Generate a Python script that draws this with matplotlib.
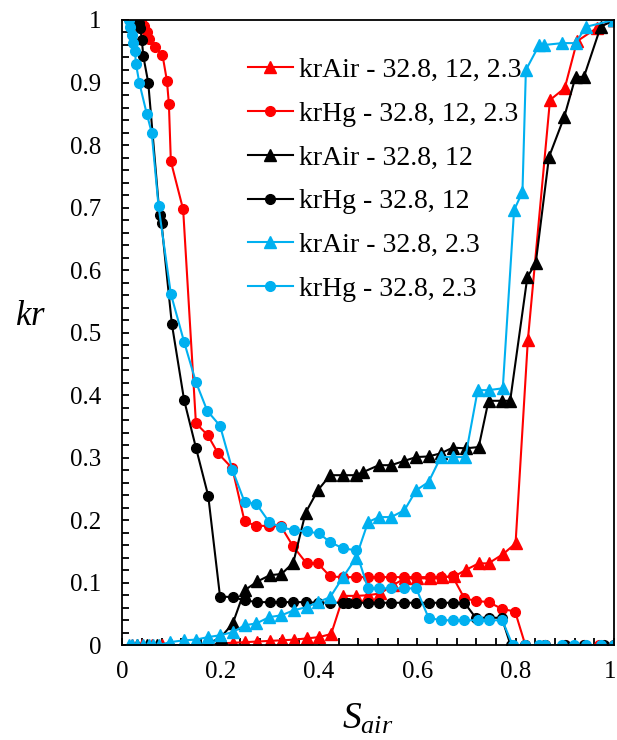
import matplotlib
matplotlib.use('Agg')
import matplotlib.pyplot as plt
from matplotlib.ticker import MultipleLocator, FuncFormatter

plt.rcParams['font.family'] = 'Liberation Serif'
plt.rcParams['mathtext.fontset'] = 'custom'
plt.rcParams['mathtext.it'] = 'Liberation Serif:italic'
plt.rcParams['mathtext.rm'] = 'Liberation Serif'

# krAir - 32.8, 12, 2.3
x_air_a = [0.02, 0.04, 0.06, 0.08, 0.10, 0.125, 0.15, 0.175, 0.20, 0.225, 0.25, 0.275, 0.30,
           0.325, 0.35, 0.375, 0.40, 0.425, 0.45, 0.475, 0.50, 0.525, 0.55, 0.575, 0.60, 0.625,
           0.65, 0.675, 0.70, 0.725, 0.745, 0.775, 0.80, 0.825, 0.87, 0.90, 0.925, 0.965, 1.0]
y_air_a = [0.0, 0.0, 0.0, 0.0, 0.0, 0.0, 0.0, 0.0, 0.003, 0.004, 0.005, 0.006, 0.007,
           0.008, 0.009, 0.011, 0.013, 0.018, 0.079, 0.079, 0.080, 0.083, 0.096, 0.107, 0.107, 0.107,
           0.109, 0.110, 0.121, 0.131, 0.131, 0.146, 0.163, 0.488, 0.872, 0.891, 0.966, 0.987, 1.0]

# krHg - 32.8, 12, 2.3
x_hg_a = [0.038, 0.045, 0.05, 0.055, 0.066, 0.082, 0.091, 0.095, 0.099, 0.124, 0.15, 0.174,
          0.195, 0.224, 0.249, 0.273, 0.299, 0.323, 0.347, 0.375, 0.398, 0.423, 0.449, 0.476,
          0.50, 0.523, 0.547, 0.574, 0.598, 0.625, 0.648, 0.672, 0.696, 0.72, 0.745, 0.773,
          0.799, 0.82, 0.86, 0.90, 0.94, 0.97, 1.0]
y_hg_a = [1.0, 0.99, 0.981, 0.970, 0.957, 0.944, 0.903, 0.866, 0.774, 0.697, 0.355, 0.336,
          0.307, 0.283, 0.198, 0.191, 0.191, 0.190, 0.159, 0.131, 0.131, 0.110, 0.109, 0.109,
          0.109, 0.109, 0.109, 0.109, 0.109, 0.109, 0.109, 0.110, 0.075, 0.071, 0.069, 0.058,
          0.054, 0.0, 0.0, 0.0, 0.0, 0.0, 0.0]

# krAir - 32.8, 12
x_air_b = [0.03, 0.05, 0.07, 0.10, 0.125, 0.15, 0.175, 0.20, 0.225, 0.249, 0.275, 0.30, 0.324,
           0.348, 0.373, 0.398, 0.423, 0.449, 0.475, 0.49, 0.522, 0.547, 0.574, 0.598, 0.623,
           0.648, 0.672, 0.699, 0.725, 0.745, 0.772, 0.789, 0.824, 0.841, 0.868, 0.899, 0.922,
           0.939, 0.973, 1.0]
y_air_b = [0.0, 0.0, 0.0, 0.0, 0.0, 0.0, 0.003, 0.012, 0.035, 0.088, 0.102, 0.112, 0.114,
           0.132, 0.212, 0.248, 0.272, 0.272, 0.272, 0.277, 0.288, 0.288, 0.295, 0.301, 0.302,
           0.307, 0.316, 0.315, 0.317, 0.391, 0.391, 0.391, 0.589, 0.611, 0.781, 0.845, 0.909,
           0.909, 0.989, 1.0]

# krHg - 32.8, 12
x_hg_b = [0.03, 0.035, 0.037, 0.04, 0.043, 0.053, 0.076, 0.08, 0.101, 0.126, 0.15, 0.175,
          0.199, 0.225, 0.249, 0.274, 0.30, 0.324, 0.348, 0.373, 0.398, 0.423, 0.449, 0.46,
          0.475, 0.50, 0.523, 0.547, 0.574, 0.598, 0.623, 0.648, 0.672, 0.696, 0.719, 0.745,
          0.772, 0.79, 0.82, 0.86, 0.90, 0.94, 0.98, 1.0]
y_hg_b = [1.0, 0.995, 0.987, 0.968, 0.942, 0.90, 0.688, 0.675, 0.514, 0.392, 0.316, 0.239,
          0.078, 0.077, 0.072, 0.069, 0.069, 0.069, 0.069, 0.069, 0.068, 0.068, 0.068, 0.068,
          0.068, 0.068, 0.068, 0.068, 0.068, 0.068, 0.068, 0.068, 0.068, 0.068, 0.044, 0.044,
          0.044, 0.0, 0.0, 0.0, 0.0, 0.0, 0.0, 0.0]

# krAir - 32.8, 2.3
x_air_c = [0.013, 0.02, 0.03, 0.043, 0.055, 0.063, 0.074, 0.097, 0.126, 0.15, 0.174, 0.199,
           0.225, 0.249, 0.273, 0.299, 0.324, 0.349, 0.375, 0.398, 0.423, 0.449, 0.475, 0.50,
           0.522, 0.547, 0.574, 0.598, 0.623, 0.648, 0.672, 0.698, 0.723, 0.745, 0.774, 0.797,
           0.814, 0.821, 0.848, 0.858, 0.895, 0.922, 0.943, 1.0]
y_air_c = [0.0, 0.0, 0.0, 0.0, 0.0, 0.0, 0.0, 0.005, 0.008, 0.009, 0.013, 0.016,
           0.021, 0.032, 0.035, 0.045, 0.048, 0.056, 0.061, 0.069, 0.077, 0.109, 0.139, 0.197,
           0.205, 0.205, 0.216, 0.248, 0.261, 0.301, 0.301, 0.301, 0.408, 0.408, 0.411, 0.696,
           0.725, 0.92, 0.96, 0.96, 0.963, 0.963, 0.989, 1.0]

# krHg - 32.8, 2.3
x_hg_c = [0.013, 0.016, 0.02, 0.023, 0.026, 0.028, 0.035, 0.05, 0.06, 0.074, 0.099, 0.126,
          0.15, 0.173, 0.199, 0.224, 0.249, 0.273, 0.299, 0.323, 0.349, 0.375, 0.40, 0.423,
          0.449, 0.475, 0.50, 0.523, 0.547, 0.574, 0.598, 0.623, 0.648, 0.672, 0.696, 0.723,
          0.745, 0.773, 0.794, 0.82, 0.848, 0.86, 0.895, 0.919, 0.943, 0.973, 1.0]
y_hg_c = [1.0, 0.989, 0.976, 0.963, 0.951, 0.93, 0.899, 0.85, 0.82, 0.702, 0.562, 0.485,
          0.421, 0.375, 0.351, 0.281, 0.229, 0.226, 0.197, 0.189, 0.184, 0.182, 0.179, 0.165,
          0.155, 0.152, 0.091, 0.091, 0.091, 0.091, 0.091, 0.044, 0.04, 0.04, 0.04, 0.04,
          0.04, 0.04, 0.0, 0.0, 0.0, 0.0, 0.0, 0.0, 0.0, 0.0, 0.0]

red = '#FF0000'
black = '#000000'
blue = '#00B0F0'

fig = plt.figure(figsize=(6.17, 7.40), dpi=100)
ax = fig.add_axes([0.198, 0.128, 0.797, 0.845])

lw = 1.5
tri = dict(marker='^', markersize=8)
dot = dict(marker='o', markersize=7)
ax.plot(x_air_a, y_air_a, color=red, lw=lw, label='krAir - 32.8, 12, 2.3', **tri)
ax.plot(x_hg_a, y_hg_a, color=red, lw=lw, label='krHg - 32.8, 12, 2.3', **dot)
ax.plot(x_air_b, y_air_b, color=black, lw=lw, label='krAir - 32.8, 12', **tri)
ax.plot(x_hg_b, y_hg_b, color=black, lw=lw, label='krHg - 32.8, 12', **dot)
ax.plot(x_air_c, y_air_c, color=blue, lw=lw, label='krAir - 32.8, 2.3', **tri)
ax.plot(x_hg_c, y_hg_c, color=blue, lw=lw, label='krHg - 32.8, 2.3', **dot)

ax.set_xlim(0, 1)
ax.set_ylim(0, 1)
ax.xaxis.set_major_locator(MultipleLocator(0.2))
ax.xaxis.set_minor_locator(MultipleLocator(0.04))
ax.yaxis.set_major_locator(MultipleLocator(0.1))
ax.yaxis.set_minor_locator(MultipleLocator(0.02))
# the "1" at the right end is drawn separately so it stays inside the figure
ax.xaxis.set_major_formatter(FuncFormatter(lambda v, p: '' if v > 0.99 else '%g' % round(v, 2)))
ax.yaxis.set_major_formatter(FuncFormatter(lambda v, p: '%g' % round(v, 2)))
ax.tick_params(which='both', direction='in', length=5, width=1.3, labelsize=18)
ax.tick_params(axis='x', pad=11)
ax.tick_params(axis='y', pad=15)
for s in ax.spines.values():
    s.set_linewidth(1.3)

ax.annotate('1', xy=(1, 0), xycoords='axes fraction', xytext=(-2.5, -11),
            textcoords='offset points', ha='center', va='top', fontsize=18)

ax.set_xlabel('$S_{air}$', fontsize=27, va='top')
ax.xaxis.set_label_coords(0.5, -0.091)
ax.set_ylabel('$kr$', fontsize=25, rotation=0, va='center', ha='center')
ax.yaxis.set_label_coords(-0.187, 0.525)

ax.legend(loc='upper left', bbox_to_anchor=(0.255, 0.94), frameon=False, fontsize=20,
          handlelength=1.65, handletextpad=0.2, labelspacing=0.66, borderpad=0, borderaxespad=0)

fig.savefig('out.png', dpi=100)
